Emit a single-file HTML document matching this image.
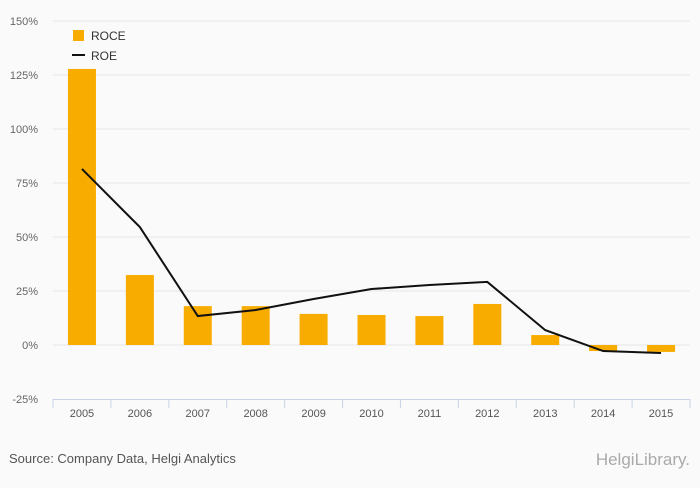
<!DOCTYPE html>
<html><head><meta charset="utf-8"><style>
body{margin:0;background:#fafafa;font-family:"Liberation Sans",sans-serif;}
svg text{font-family:"Liberation Sans",sans-serif;}
</style></head><body>
<svg id="chart" width="700" height="483" xmlns="http://www.w3.org/2000/svg">
<rect width="700" height="483" fill="#fafafa"/>
<g id="grid"></g>
<g id="bars"></g>
<g id="xaxis"></g>
<polyline id="roe" fill="none" stroke="#111" stroke-width="2"/>
<g>
<rect x="73" y="30" width="11" height="11" fill="#f9ac00"/>
<text x="91" y="40" font-size="12" fill="#333">ROCE</text>
<line x1="72" y1="55" x2="85" y2="55" stroke="#111" stroke-width="2"/>
<text x="91" y="60" font-size="12" fill="#333">ROE</text>
</g>
<text x="9" y="463" font-size="13" fill="#555">Source: Company Data, Helgi Analytics</text>
<text x="690" y="465" font-size="17" fill="#aaa" text-anchor="end" font-family="Liberation Serif">HelgiLibrary.</text>
</svg>
<script>
const categories=["2005","2006","2007","2008","2009","2010","2011","2012","2013","2014","2015"];
const roceValues=[127.8,32.4,18,18,14.4,13.9,13.4,19,4.6,-2.8,-3.2];
const roeValues=[81.5,54.6,13.4,16.2,21.3,25.9,27.8,29.2,6.9,-2.8,-3.7];
const yTicks=[-25,0,25,50,75,100,125,150];
const NS="http://www.w3.org/2000/svg";
const x0=53,x1=690,step=(x1-x0)/categories.length;
function y(v){return 345-v*54/25;}
function xc(i){return x0+step*(i+0.5);}
function mk(t,a,p){const e=document.createElementNS(NS,t);for(const k in a)e.setAttribute(k,a[k]);p.appendChild(e);return e;}
const grid=document.getElementById('grid');
yTicks.forEach(v=>{
  if(v>-25){const l=mk('line',{x1:x0,x2:x1,y1:y(v),y2:y(v),stroke:'#e6e6e6','stroke-width':1},grid);
  
  }
  const t=mk('text',{x:38,y:y(v)+4,'font-size':11,fill:'#666','text-anchor':'end'},grid);
  t.textContent=v+'%';
  
  
});
const bars=document.getElementById('bars');
roceValues.forEach((v,i)=>{
  const r=mk('rect',{x:xc(i)-14,width:28,y:Math.min(y(v),y(0)),height:Math.abs(y(v)-y(0)),fill:'#f9ac00'},bars);
  
  
});
const xa=document.getElementById('xaxis');
const al=mk('line',{x1:x0,x2:x1,y1:399.5,y2:399.5,stroke:'#c8d4e6'},xa);


for(let i=0;i<=categories.length;i++){
  const tk=mk('line',{x1:x0+step*i,x2:x0+step*i,y1:399,y2:408,stroke:'#c8d4e6'},xa);
  
  
}
categories.forEach((c,i)=>{
  const t=mk('text',{x:xc(i),y:417,'font-size':11,fill:'#555','text-anchor':'middle'},xa);
  t.textContent=c;
  
  
});
document.getElementById('roe').setAttribute('points',roeValues.map((v,i)=>xc(i)+','+y(v)).join(' '));
</script>
</body></html>
